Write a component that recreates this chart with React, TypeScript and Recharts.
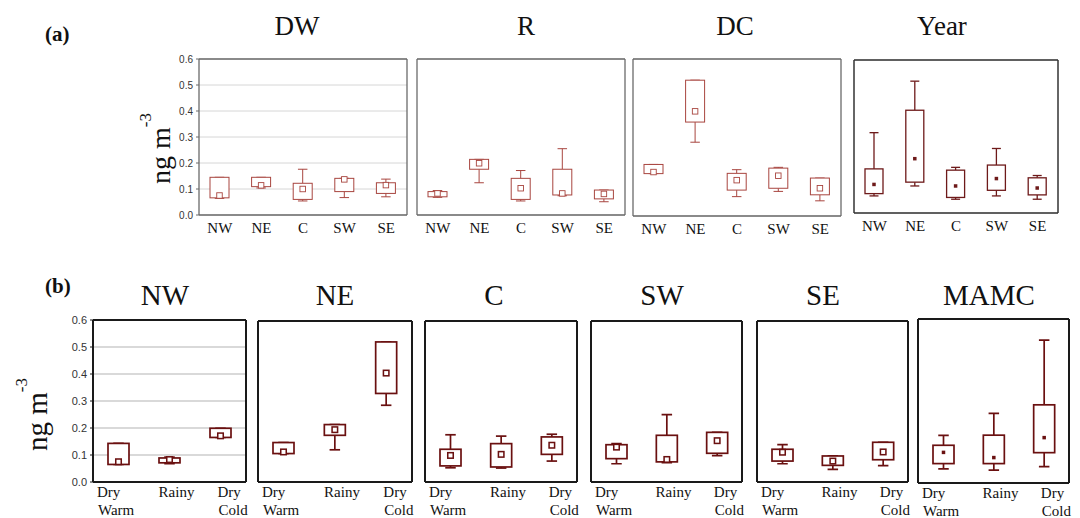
import React from 'react';
import { ComposedChart, Bar, XAxis, YAxis, CartesianGrid } from 'recharts';

const regions = ['NW', 'NE', 'C', 'SW', 'SE'];
const seasons = ['Dry Warm', 'Rainy', 'Dry Cold'];
const yTicks = [0, 0.1, 0.2, 0.3, 0.4, 0.5, 0.6];
const topTitles = ['DW', 'R', 'DC', 'Year'];
const bottomTitles = ['NW', 'NE', 'C', 'SW', 'SE', 'MAMC'];

// each row: [low whisker, q1, centre marker, q3, high whisker]
const dwStats = [
  [0.064, 0.066, 0.075, 0.145, 0.145],
  [0.104, 0.109, 0.114, 0.145, 0.145],
  [0.054, 0.06, 0.1, 0.122, 0.176],
  [0.067, 0.09, 0.137, 0.141, 0.141],
  [0.07, 0.083, 0.115, 0.124, 0.138],
];
const rStats = [
  [0.068, 0.07, 0.083, 0.09, 0.094],
  [0.124, 0.176, 0.199, 0.214, 0.214],
  [0.054, 0.06, 0.103, 0.141, 0.171],
  [0.074, 0.077, 0.083, 0.176, 0.255],
  [0.051, 0.062, 0.081, 0.096, 0.096],
];
const dcStats = [
  [0.162, 0.162, 0.168, 0.197, 0.197],
  [0.282, 0.359, 0.4, 0.519, 0.519],
  [0.074, 0.099, 0.137, 0.163, 0.177],
  [0.094, 0.106, 0.154, 0.183, 0.186],
  [0.058, 0.081, 0.106, 0.145, 0.145],
];
const yearStats = [
  [0.067, 0.076, 0.112, 0.173, 0.315],
  [0.106, 0.121, 0.213, 0.403, 0.517],
  [0.054, 0.061, 0.106, 0.168, 0.179],
  [0.067, 0.089, 0.135, 0.188, 0.253],
  [0.054, 0.071, 0.098, 0.138, 0.147],
];

const nwStats = [
  [0.065, 0.065, 0.075, 0.143, 0.143],
  [0.068, 0.071, 0.083, 0.089, 0.092],
  [0.165, 0.165, 0.171, 0.199, 0.199],
];
const neStats = [
  [0.106, 0.106, 0.112, 0.147, 0.147],
  [0.12, 0.174, 0.195, 0.214, 0.214],
  [0.286, 0.33, 0.406, 0.522, 0.522],
];
const cStats = [
  [0.053, 0.06, 0.099, 0.122, 0.176],
  [0.052, 0.056, 0.103, 0.143, 0.171],
  [0.078, 0.103, 0.137, 0.168, 0.178],
];
const swStats = [
  [0.068, 0.087, 0.13, 0.139, 0.143],
  [0.072, 0.075, 0.084, 0.174, 0.251],
  [0.098, 0.107, 0.154, 0.185, 0.185],
];
const seStats = [
  [0.068, 0.078, 0.111, 0.122, 0.139],
  [0.047, 0.062, 0.078, 0.097, 0.097],
  [0.061, 0.083, 0.112, 0.148, 0.148],
];
const mamcStats = [
  [0.052, 0.071, 0.112, 0.138, 0.174],
  [0.047, 0.071, 0.093, 0.175, 0.255],
  [0.06, 0.111, 0.166, 0.286, 0.523],
];

const SERIF = '"Liberation Serif", "Times New Roman", Times, serif';
const SANS = '"Liberation Sans", Arial, sans-serif';

type Variant = {
  frame: string;
  frameW: number;
  grid: string;
  gridW: number;
  box: string;
  boxW: number;
  barSize: number;
  marker: 'hollow' | 'filled';
};

const lightA: Variant = { frame: '#6a6a6a', frameW: 1.3, grid: '#d6d6d6', gridW: 1, box: '#a8453f', boxW: 1, barSize: 19, marker: 'hollow' };
const darkA: Variant = { frame: '#333', frameW: 1.5, grid: '#d0d0d0', gridW: 1, box: '#6e1a1a', boxW: 1.3, barSize: 18, marker: 'filled' };
const darkB: Variant = { frame: '#1a1a1a', frameW: 2, grid: '#cdcdcd', gridW: 1.3, box: '#6a1010', boxW: 1.7, barSize: 21, marker: 'hollow' };
const darkBM: Variant = { ...darkB, marker: 'filled' };

function makeBoxShape(v: Variant) {
  return (props: any) => {
    const { x, y, width, height, payload } = props;
    if (!payload) return <g />;
    const top = Math.min(y, y + height);
    const bot = Math.max(y, y + height);
    const { low, q1, mid, q3, high } = payload;
    const span = high - low || 1;
    const py = (val: number) => bot - ((val - low) / span) * (bot - top);
    const cx = x + width / 2;
    const cap = width * 0.5;
    const yq1 = py(q1), yq3 = py(q3), ym = py(mid), yl = py(low), yh = py(high);
    const ms = v.marker === 'filled' ? 3.5 : 5.5;
    return (
      <g stroke={v.box} strokeWidth={v.boxW} fill="none">
        <line x1={cx} x2={cx} y1={yh} y2={yq3} />
        <line x1={cx} x2={cx} y1={yq1} y2={yl} />
        <line x1={cx - cap / 2} x2={cx + cap / 2} y1={yh} y2={yh} />
        <line x1={cx - cap / 2} x2={cx + cap / 2} y1={yl} y2={yl} />
        <rect x={x} y={yq3} width={width} height={Math.max(yq1 - yq3, 0.5)} fill="#fff" />
        {v.marker === 'filled' ? (
          <rect x={cx - ms / 2} y={ym - ms / 2} width={ms} height={ms} fill={v.box} stroke="none" />
        ) : (
          <rect x={cx - ms / 2} y={ym - ms / 2} width={ms} height={ms} fill="#fff" strokeWidth={v.boxW * 0.9} />
        )}
      </g>
    );
  };
}

type PanelProps = {
  frame: [number, number, number, number];
  cats: string[];
  stats: number[][];
  showTicks: boolean;
  variant: Variant;
  row: 'a' | 'b';
};

function Panel({ frame, cats, stats, showTicks, variant, row }: PanelProps) {
  const [L, T, R, B] = frame;
  const le = showTicks ? 36 : 3;
  const te = 10;
  const re = 3;
  const be = row === 'b' ? 518 - B : 32;
  const bandW = (R - L) / cats.length;
  const data = cats.map((c, i) => ({
    cat: c,
    low: stats[i][0],
    q1: stats[i][1],
    mid: stats[i][2],
    q3: stats[i][3],
    high: stats[i][4],
  }));

  const textStyle = { fontFamily: SERIF, fontSize: 15, fill: '#111' };

  const renderTick = (p: any) => {
    const { x, y, payload } = p;
    const label: string = payload.value;
    if (row === 'a') {
      return (
        <g>
          <text x={x} y={y + 18} textAnchor="middle" style={textStyle}>
            {label}
          </text>
        </g>
      );
    }
    const parts = label.split(' ');
    if (parts.length === 1) {
      return (
        <g>
          <text x={x + 7} y={y + 15} textAnchor="middle" style={textStyle}>
            {label}
          </text>
        </g>
      );
    }
    const first = label === seasons[0];
    const sx = first ? x - bandW / 2 + 4 : x - 3;
    return (
      <g>
        <text style={textStyle}>
          <tspan x={sx} y={y + 15}>{parts[0]}</tspan>
          <tspan x={sx + 1} y={y + 33}>{parts[1]}</tspan>
        </text>
      </g>
    );
  };

  const axisLine = { stroke: variant.frame, strokeWidth: variant.frameW };

  return (
    <div style={{ position: 'absolute', left: L - le, top: T - te }}>
      <ComposedChart
        width={R - L + le + re}
        height={B - T + te + be}
        data={data}
        margin={{ top: te - 1, right: re - 1, left: 0, bottom: 0 }}
        barCategoryGap={0}
      >
        <CartesianGrid vertical={false} stroke={variant.grid} strokeWidth={variant.gridW} />
        <XAxis
          dataKey="cat"
          height={be}
          axisLine={axisLine}
          tickLine={false}
          tickSize={0}
          tickMargin={0}
          tick={renderTick}
          interval={0}
        />
        <XAxis
          xAxisId="top"
          dataKey="cat"
          orientation="top"
          height={1}
          axisLine={axisLine}
          tick={false}
          tickSize={-4}
          tickLine={{ stroke: variant.frame, strokeWidth: 1 }}
          interval={0}
        />
        <YAxis
          domain={[0, 0.6]}
          ticks={yTicks}
          type="number"
          width={le}
          axisLine={axisLine}
          tickLine={showTicks ? { stroke: variant.frame } : false}
          tickSize={3}
          tickMargin={3}
          tick={showTicks ? { fontFamily: SANS, fontSize: row === 'a' ? 10 : 11, fill: '#333' } : false}
          tickFormatter={(t: number) => t.toFixed(1)}
          interval={0}
          allowDataOverflow
        />
        <YAxis
          yAxisId="right"
          orientation="right"
          domain={[0, 0.6]}
          ticks={yTicks}
          type="number"
          width={1}
          axisLine={axisLine}
          tick={false}
          tickSize={-4}
          tickLine={{ stroke: variant.frame, strokeWidth: 1 }}
          interval={0}
        />
        <Bar
          dataKey={(d: any) => [d.low, d.high]}
          barSize={variant.barSize}
          shape={makeBoxShape(variant)}
          isAnimationActive={false}
        />
      </ComposedChart>
    </div>
  );
}

const topFrames: [number, number, number, number][] = [
  [199, 59, 407, 215],
  [417, 59, 625, 215],
  [633, 59, 841, 216],
  [854, 60, 1058, 213],
];
const topTitleX = [297, 526, 735, 942];
const bottomFrames: [number, number, number, number][] = [
  [93, 320, 246, 482],
  [258, 321, 412, 482],
  [425, 321, 577, 482],
  [591, 321, 742, 482],
  [757, 321, 908, 482],
  [918, 319, 1069, 483],
];
const bottomTitleX = [165, 335, 494, 662, 823, 989];

export default function App() {
  const topStats = [dwStats, rStats, dcStats, yearStats];
  const botStats = [nwStats, neStats, cStats, swStats, seStats, mamcStats];
  return (
    <div style={{ position: 'absolute', left: 0, top: 0, width: 1080, height: 518, background: '#fff', overflow: 'hidden' }}>
      <svg width={1080} height={518} style={{ position: 'absolute', left: 0, top: 0 }}>
        <text x={45} y={41} style={{ fontFamily: SERIF, fontWeight: 'bold', fontSize: 21, fill: '#111' }}>(a)</text>
        <text x={45} y={293} style={{ fontFamily: SERIF, fontWeight: 'bold', fontSize: 21, fill: '#111' }}>(b)</text>
        {topTitles.map((t, i) => (
          <text key={t} x={topTitleX[i]} y={35} textAnchor="middle" style={{ fontFamily: SERIF, fontSize: 27, fill: '#111' }}>{t}</text>
        ))}
        {bottomTitles.map((t, i) => (
          <text key={t} x={bottomTitleX[i]} y={305} textAnchor="middle" style={{ fontFamily: SERIF, fontSize: 29, fill: '#111' }}>{t}</text>
        ))}
        <text transform="translate(170,184) rotate(-90)" style={{ fontFamily: SERIF, fontSize: 28, fill: '#111' }}>
          ng m<tspan style={{ fontSize: 17 }} dy={-19}>-3</tspan>
        </text>
        <text transform="translate(47,451) rotate(-90)" style={{ fontFamily: SERIF, fontSize: 29, fill: '#111' }}>
          ng m<tspan style={{ fontSize: 17 }} dy={-20}>-3</tspan>
        </text>
      </svg>
      {topFrames.map((f, i) => (
        <Panel
          key={'a' + i}
          frame={f}
          cats={regions}
          stats={topStats[i]}
          showTicks={i === 0}
          variant={i === 3 ? darkA : lightA}
          row="a"
        />
      ))}
      {bottomFrames.map((f, i) => (
        <Panel
          key={'b' + i}
          frame={f}
          cats={seasons}
          stats={botStats[i]}
          showTicks={i === 0}
          variant={i === 5 ? darkBM : darkB}
          row="b"
        />
      ))}
    </div>
  );
}
